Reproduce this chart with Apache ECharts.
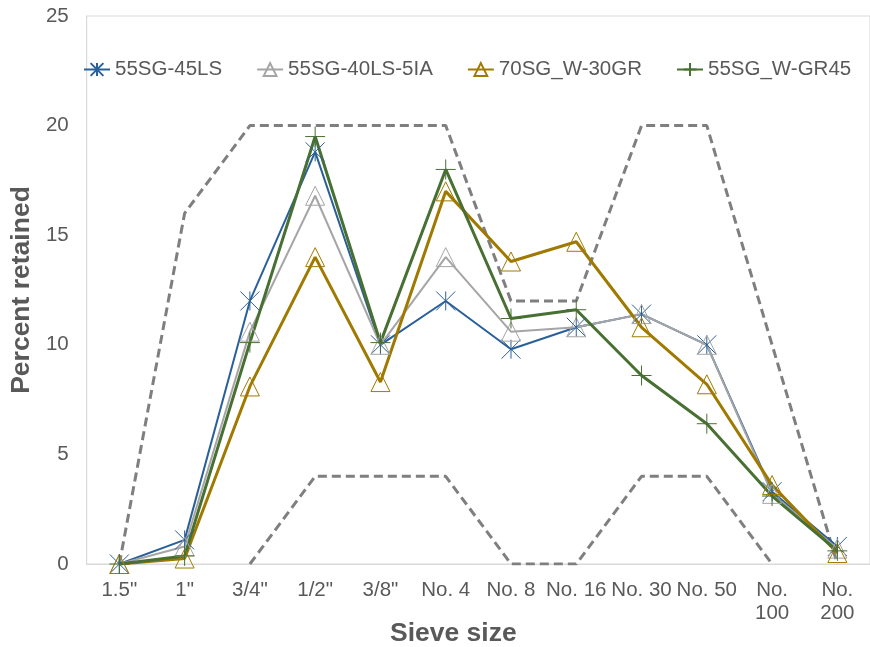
<!DOCTYPE html>
<html>
<head>
<meta charset="utf-8">
<script src="https://cdn.jsdelivr.net/npm/echarts@6/dist/echarts.min.js"></script>
<style>html,body{margin:0;padding:0;background:#fff;}#c{width:870px;height:647px;}</style>
</head>
<body>
<div id="c"></div>
<script>
const categories = ['1.5"', '1"', '3/4"', '1/2"', '3/8"', 'No. 4', 'No. 8', 'No. 16', 'No. 30', 'No. 50', 'No. 100', 'No. 200'];
const yTicks = [0, 5, 10, 15, 20, 25];
const s55SG45LS   = [0, 1.1, 12.0, 18.8, 10.0, 12.0, 9.8, 10.8, 11.4, 10.0, 3.3, 0.8];
const s55SG40LS5IA = [0, 0.8, 10.6, 16.8, 10.0, 14.0, 10.6, 10.8, 11.4, 10.0, 3.2, 0.7];
const s70SGW30GR  = [0, 0.25, 8.1, 14.0, 8.3, 17.0, 13.8, 14.7, 10.8, 8.2, 3.6, 0.5];
const s55SGWGR45  = [0, 0.37, 10.1, 19.5, 10.1, 18.0, 11.2, 11.6, 8.6, 6.4, 3.1, 0.6];
const upperLimit  = [0, 16, 20, 20, 20, 20, 12, 12, 20, 20, 10, 0];
const lowerLimit  = [null, null, 0, 4, 4, 4, 0, 0, 4, 4, 0, null];

const names = ['55SG-45LS', '55SG-40LS-5IA', '70SG_W-30GR', '55SG_W-GR45'];
const colors = ['#2a6099', '#a5a5a5', '#a07a00', '#487033'];

const asterisk = 'path://M0 0 L10 10 M10 0 L0 10 M5 0 L5 10';
const plus = 'path://M5 0 L5 10 M0 5 L10 5';

function mk(name, data, color, width, symbol, size) {
  return {
    name: name, type: 'line', data: data, z: 3,
    symbol: symbol, symbolSize: size,
    lineStyle: { color: color, width: width },
    itemStyle: { color: 'rgba(0,0,0,0)', borderColor: color, borderWidth: 1 },
    emphasis: { disabled: true },
    animation: false
  };
}

const FF = '"Liberation Sans", Arial, sans-serif';
const chart = echarts.init(document.getElementById('c'), null, { renderer: 'canvas' });
const txt = '#595959';
chart.setOption({
  backgroundColor: '#fff',
  textStyle: { fontFamily: FF },
  grid: { left: 85, top: 16, width: 795, height: 548, show: true, borderColor: '#d9d9d9', borderWidth: 1 },
  legend: {
    data: names, left: 78, top: 54, itemWidth: 26, itemHeight: 16, itemGap: 34,
    textStyle: { color: txt, fontSize: 20.5, fontFamily: FF }
  },
  xAxis: {
    type: 'category', data: categories, boundaryGap: true,
    axisLine: { lineStyle: { color: '#d9d9d9', width: 1 } },
    axisTick: { show: false },
    axisLabel: {
      interval: 0, color: txt, fontSize: 20.5, margin: 15, lineHeight: 23,
      formatter: v => v.length > 6 ? v.replace(' ', '\n') : v
    }
  },
  yAxis: {
    type: 'value', min: yTicks[0], max: yTicks[yTicks.length - 1], interval: 5,
    name: 'Percent retained', nameLocation: 'middle', nameGap: 48,
    nameTextStyle: { color: txt, fontSize: 26.5, fontWeight: 'bold' },
    axisLine: { show: true, lineStyle: { color: '#d9d9d9', width: 1 } },
    axisTick: { show: false },
    splitLine: { show: false },
    axisLabel: { color: txt, fontSize: 20.5, margin: 18 }
  },
  graphic: [{
    type: 'text', left: 390, top: 620,
    style: { text: 'Sieve size', fill: txt, font: 'bold 26.5px "Liberation Sans", Arial, sans-serif' }
  }],
  series: [
    { name: 'upper', type: 'line', data: upperLimit, symbol: 'none', z: 2, animation: false,
      lineStyle: { color: '#7f7f7f', width: 3, type: [9, 5] } },
    { name: 'lower', type: 'line', data: lowerLimit, symbol: 'none', z: 2, animation: false,
      lineStyle: { color: '#7f7f7f', width: 3, type: [9, 5] } },
    mk(names[0], s55SG45LS, colors[0], 2, asterisk, 19),
    mk(names[1], s55SG40LS5IA, colors[1], 2, 'triangle', 19),
    mk(names[2], s70SGW30GR, colors[2], 3, 'triangle', 19),
    mk(names[3], s55SGWGR45, colors[3], 3, plus, 20)
  ]
});
</script>
</body>
</html>
